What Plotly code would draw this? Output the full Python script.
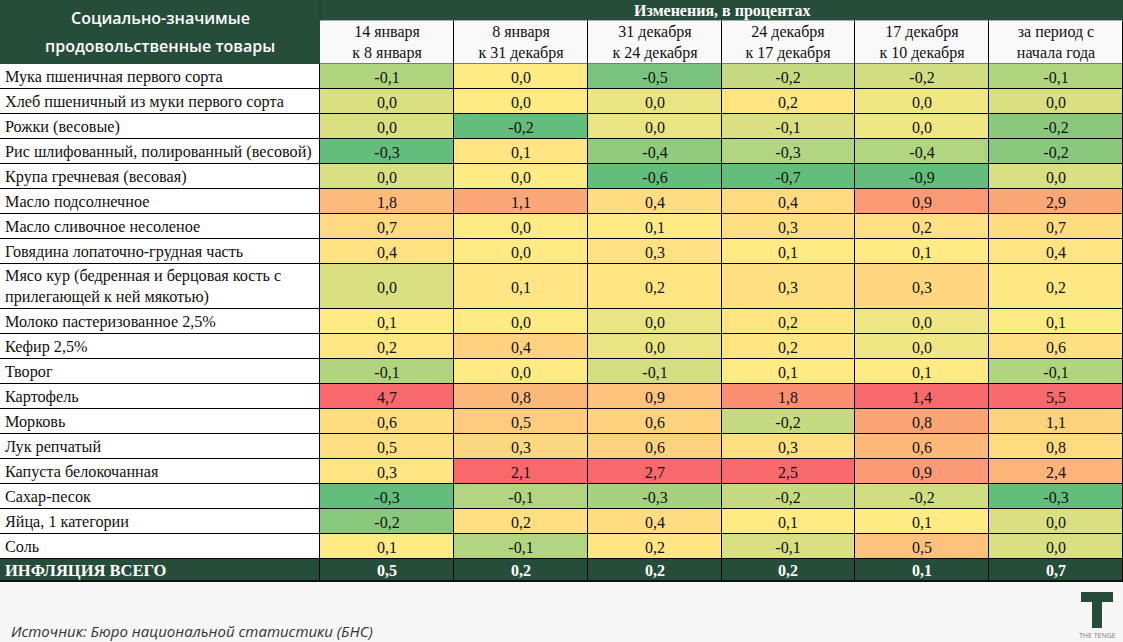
import plotly.graph_objects as go

# ---------------- data ----------------
products = [
    "Мука пшеничная первого сорта",
    "Хлеб пшеничный из муки первого сорта",
    "Рожки (весовые)",
    "Рис шлифованный, полированный (весовой)",
    "Крупа гречневая (весовая)",
    "Масло подсолнечное",
    "Масло сливочное несоленое",
    "Говядина лопаточно-грудная часть",
    "Мясо кур (бедренная и берцовая кость с<br>прилегающей к ней мякотью)",
    "Молоко пастеризованное 2,5%",
    "Кефир 2,5%",
    "Творог",
    "Картофель",
    "Морковь",
    "Лук репчатый",
    "Капуста белокочанная",
    "Сахар-песок",
    "Яйца, 1 категории",
    "Соль",
]
periods = [
    "14 января<br>к 8 января",
    "8 января<br>к 31 декабря",
    "31 декабря<br>к 24 декабря",
    "24 декабря<br>к 17 декабря",
    "17 декабря<br>к 10 декабря",
    "за период с<br>начала года",
]
jan14_vs_jan8 = [-0.1, 0.0, 0.0, -0.3, 0.0, 1.8, 0.7, 0.4, 0.0, 0.1, 0.2, -0.1, 4.7, 0.6, 0.5, 0.3, -0.3, -0.2, 0.1]
jan8_vs_dec31 = [0.0, 0.0, -0.2, 0.1, 0.0, 1.1, 0.0, 0.0, 0.1, 0.0, 0.4, 0.0, 0.8, 0.5, 0.3, 2.1, -0.1, 0.2, -0.1]
dec31_vs_dec24 = [-0.5, 0.0, 0.0, -0.4, -0.6, 0.4, 0.1, 0.3, 0.2, 0.0, 0.0, -0.1, 0.9, 0.6, 0.6, 2.7, -0.3, 0.4, 0.2]
dec24_vs_dec17 = [-0.2, 0.2, -0.1, -0.3, -0.7, 0.4, 0.3, 0.1, 0.3, 0.2, 0.2, 0.1, 1.8, -0.2, 0.3, 2.5, -0.2, 0.1, -0.1]
dec17_vs_dec10 = [-0.2, 0.0, 0.0, -0.4, -0.9, 0.9, 0.2, 0.1, 0.3, 0.0, 0.0, 0.1, 1.4, 0.8, 0.6, 0.9, -0.2, 0.1, 0.5]
year_to_date = [-0.1, 0.0, -0.2, -0.2, 0.0, 2.9, 0.7, 0.4, 0.2, 0.1, 0.6, -0.1, 5.5, 1.1, 0.8, 2.4, -0.3, 0.0, 0.0]
inflation_label = "ИНФЛЯЦИЯ ВСЕГО"
inflation_total = [0.5, 0.2, 0.2, 0.2, 0.1, 0.7]

series = [jan14_vs_jan8, jan8_vs_dec31, dec31_vs_dec24, dec24_vs_dec17, dec17_vs_dec10, year_to_date]

# ---------------- style / layout constants ----------------
W, H = 1123, 642
DARK = "#264d3a"
LABEL_W = 320
BAND_H = 20.5
HEAD_BOTTOM = 64
ROW_H = 25
TALL_H = 45
INFL_H = 22
SERIF = "Liberation Serif"
SANS = "Open Sans"


def fmt(v):
    return f"{v:.1f}".replace(".", ",")


def median(vals):
    s = sorted(vals)
    n = len(s)
    return s[n // 2] if n % 2 else (s[n // 2 - 1] + s[n // 2]) / 2


def scale_pos(v, lo, mid, hi):
    # Excel-like 3-colour scale: min -> 0, median -> 0.5, max -> 1
    if v <= mid:
        return 0.0 if mid == lo else 0.5 * (v - lo) / (mid - lo)
    return 1.0 if hi == mid else 0.5 + 0.5 * (v - mid) / (hi - mid)


n_rows = len(products)
n_cols = len(series)
col_w = (W - LABEL_W) / n_cols
x_edges = [LABEL_W + i * col_w for i in range(n_cols + 1)]

row_heights = [TALL_H if "<br>" in p else ROW_H for p in products]
y_edges = [HEAD_BOTTOM]
for h in row_heights:
    y_edges.append(y_edges[-1] + h)
infl_top = y_edges[-1]
infl_bottom = infl_top + INFL_H

# colour positions per column
z = [[0.0] * n_cols for _ in range(n_rows)]
txt = [[""] * n_cols for _ in range(n_rows)]
for j, col in enumerate(series):
    lo, mid, hi = min(col), median(col), max(col)
    for i, v in enumerate(col):
        z[i][j] = scale_pos(v, lo, mid, hi)
        txt[i][j] = fmt(v)

fig = go.Figure()

# label column cells
fig.add_trace(go.Heatmap(
    x=[0, LABEL_W], y=y_edges, z=[[0] for _ in products],
    colorscale=[[0, "#ffffff"], [1, "#ffffff"]], showscale=False,
    xgap=1, ygap=1, hoverinfo="skip",
))

# value cells with colour scale
fig.add_trace(go.Heatmap(
    x=x_edges, y=y_edges, z=z, zmin=0, zmax=1,
    colorscale=[[0, "#63BE7B"], [0.5, "#FFEB84"], [1, "#F8696B"]],
    showscale=False, xgap=1, ygap=1, hoverinfo="skip",
    text=txt, texttemplate="%{text}",
    textfont=dict(family=SERIF, size=16, color="#111111"),
))

# period header cells
fig.add_trace(go.Heatmap(
    x=x_edges, y=[BAND_H, HEAD_BOTTOM], z=[[0] * n_cols],
    colorscale=[[0, "#f9f9f9"], [1, "#f9f9f9"]], showscale=False,
    xgap=1, ygap=1, hoverinfo="skip",
    text=[periods], texttemplate="%{text}",
    textfont=dict(family=SERIF, size=16, color="#111111"),
))

# inflation total row
fig.add_trace(go.Heatmap(
    x=[0] + x_edges, y=[infl_top, infl_bottom], z=[[0] * (n_cols + 1)],
    colorscale=[[0, DARK], [1, DARK]], showscale=False,
    xgap=1, ygap=1, hoverinfo="skip",
    text=[[""] + [fmt(v) for v in inflation_total]], texttemplate="<b>%{text}</b>",
    textfont=dict(family=SERIF, size=16, color="#ffffff"),
))

shapes = [
    # grid (shows through heatmap gaps)
    dict(type="rect", xref="x", yref="y", x0=0, x1=W, y0=BAND_H, y1=infl_bottom + 1,
         fillcolor="#000000", line=dict(width=0), layer="below"),
    # dark header band and first-column header
    dict(type="rect", xref="x", yref="y", x0=0, x1=W, y0=0, y1=BAND_H,
         fillcolor=DARK, line=dict(width=0), layer="below"),
    dict(type="rect", xref="x", yref="y", x0=0, x1=LABEL_W, y0=0, y1=HEAD_BOTTOM,
         fillcolor=DARK, line=dict(width=0), layer="below"),
    dict(type="line", xref="x", yref="y", x0=LABEL_W, x1=LABEL_W, y0=0, y1=BAND_H,
         line=dict(color="#1b3528", width=1)),
    # bottom rule
    dict(type="line", xref="x", yref="y", x0=0, x1=W, y0=infl_bottom, y1=infl_bottom,
         line=dict(color="#111111", width=2)),
    # logo
    dict(type="rect", xref="x", yref="y", x0=1081, x1=1113, y0=592, y1=602,
         fillcolor=DARK, line=dict(width=0)),
    dict(type="rect", xref="x", yref="y", x0=1092, x1=1102, y0=602, y1=628,
         fillcolor=DARK, line=dict(width=0)),
]

annotations = [
    dict(x=(LABEL_W + W) / 2, y=BAND_H / 2 + 1, text="<b>Изменения, в процентах</b>",
         showarrow=False, xref="x", yref="y", xanchor="center", yanchor="middle",
         font=dict(family=SERIF, size=16, color="#ffffff")),
    dict(x=LABEL_W / 2, y=18, text="Социально-значимые",
         showarrow=False, xref="x", yref="y", xanchor="center", yanchor="middle",
         font=dict(family=SANS, size=16, color="#ffffff", weight=600)),
    dict(x=LABEL_W / 2, y=46, text="продовольственные товары",
         showarrow=False, xref="x", yref="y", xanchor="center", yanchor="middle",
         font=dict(family=SANS, size=16, color="#ffffff", weight=600)),
    dict(x=3, y=(infl_top + infl_bottom) / 2, text="<b>" + inflation_label + "</b>",
         showarrow=False, xref="x", yref="y", xanchor="left", yanchor="middle",
         font=dict(family=SERIF, size=16.5, color="#ffffff")),
    dict(x=9, y=631, text="<i>Источник: Бюро национальной статистики (БНС)</i>",
         showarrow=False, xref="x", yref="y", xanchor="left", yanchor="middle",
         font=dict(family=SANS, size=15, color="#333333")),
    dict(x=1097, y=635, text="THE TENGE",
         showarrow=False, xref="x", yref="y", xanchor="center", yanchor="middle",
         font=dict(family=SANS, size=7, color="#777777")),
]
for i, p in enumerate(products):
    annotations.append(dict(
        x=3, y=(y_edges[i] + y_edges[i + 1]) / 2, text=p, align="left",
        showarrow=False, xref="x", yref="y", xanchor="left", yanchor="middle",
        font=dict(family=SERIF, size=16.2, color="#111111"),
    ))

fig.update_layout(
    width=W, height=H,
    margin=dict(l=0, r=0, t=0, b=0),
    paper_bgcolor="#f7f7f7", plot_bgcolor="#f7f7f7",
    xaxis=dict(range=[0, W], visible=False, fixedrange=True),
    yaxis=dict(range=[H, 0], visible=False, fixedrange=True),
    shapes=shapes, annotations=annotations,
    showlegend=False,
)

fig.write_html(
    "out.html",
    config={"displayModeBar": False},
    post_script="document.body.style.margin='0';document.body.style.background='#f7f7f7';",
)
